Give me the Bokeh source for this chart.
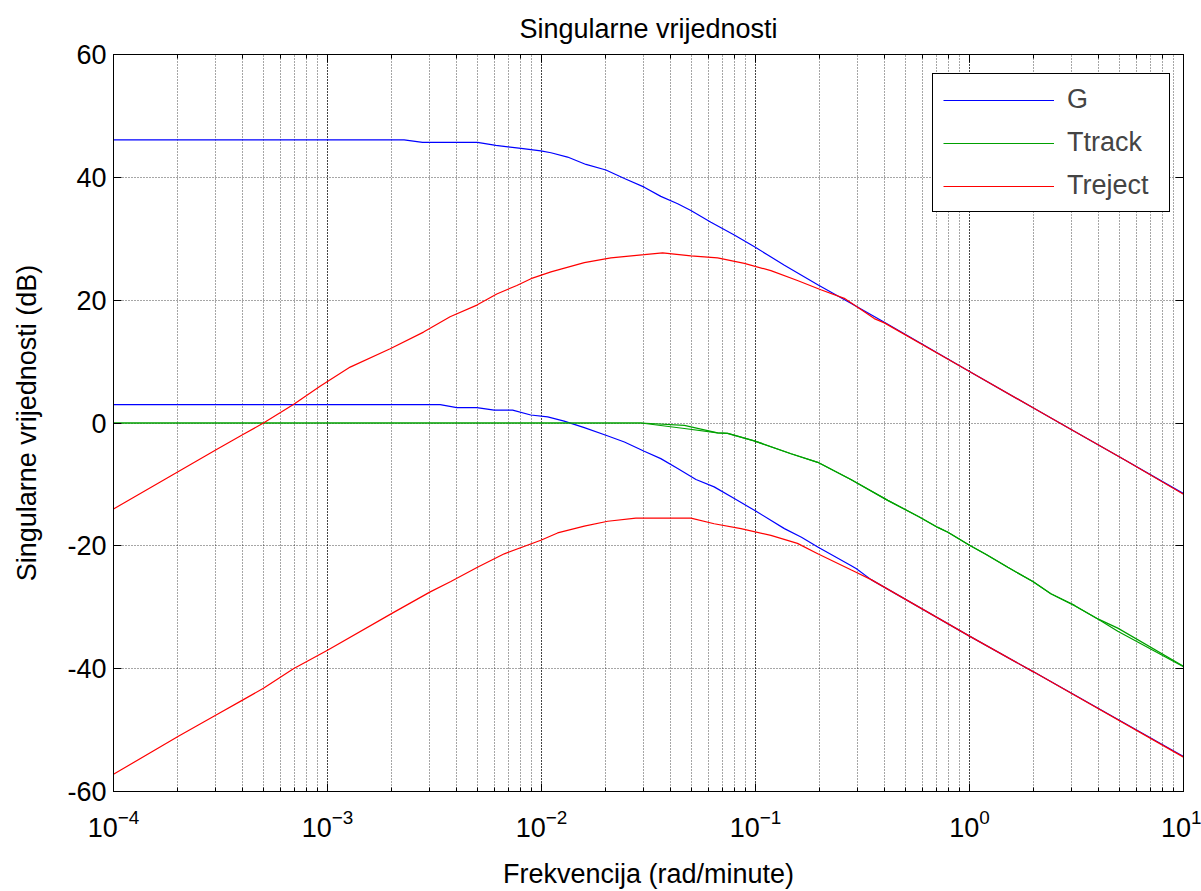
from bokeh.plotting import figure
from bokeh.models import LinearAxis, LogAxis, FixedTicker, LogTicker, Legend, LegendItem
from bokeh.embed import file_html
from bokeh.resources import INLINE

FONT = "Liberation Sans"

# ---- data ----
g1_f = [1e-4, 2.28e-3, 2.78e-3, 5.02e-3, 6.12e-3, 8.02e-3, 9.93e-3, 1.107e-2, 1.324e-2,
        1.614e-2, 2.0e-2, 2.44e-2, 3.02e-2, 3.61e-2, 4.33e-2, 4.99e-2, 6.19e-2, 7.96e-2,
        9.98e-2, 0.1365, 0.1954, 0.279, 0.4, 1.0, 2.01, 2.93, 5.3, 10.0]
g1_db = [46.1, 46.1, 45.7, 45.7, 45.2, 44.7, 44.3, 44.0, 43.3,
         42.1, 41.2, 39.8, 38.4, 36.9, 35.7, 34.6, 32.7, 30.6,
         28.6, 25.7, 22.5, 19.5, 16.4, 8.4, 2.35, -0.9, -6.0, -11.5]

g2_f = [1e-4, 3.36e-3, 4.02e-3, 4.99e-3, 6.01e-3, 7.33e-3, 8.91e-3, 1.069e-2, 1.276e-2,
        1.585e-2, 2.0e-2, 2.44e-2, 3.02e-2, 3.61e-2, 4.33e-2, 5.27e-2, 6.41e-2, 7.96e-2,
        9.98e-2, 0.1365, 0.164, 0.1954, 0.279, 0.295, 0.347, 1.0, 2.01, 10.0]
g2_db = [3.0, 3.0, 2.5, 2.5, 2.1, 2.1, 1.3, 1.0, 0.3,
         -0.75, -2.0, -3.1, -4.6, -5.8, -7.4, -9.2, -10.4, -12.3,
         -14.3, -17.2, -18.6, -20.2, -23.2, -23.7, -25.5, -34.7, -40.6, -54.3]

t1_f = [1e-4, 2.92e-2, 4.65e-2, 6.65e-2, 7.41e-2, 9.86e-2, 0.1466, 0.1954, 0.279, 0.415,
        0.583, 0.711, 0.793, 1.0, 1.197, 1.51, 1.977, 2.40, 3.09, 3.98, 4.93, 10.0]
t1_db = [0.0, 0.0, -0.4, -1.6, -1.7, -2.9, -5.0, -6.4, -9.2, -12.6,
         -15.3, -17.0, -17.8, -19.9, -21.4, -23.5, -25.8, -27.8, -29.7, -31.9, -33.4, -39.6]

t2_f = [1e-4, 2.92e-2, 4.65e-2, 6.65e-2, 7.41e-2, 9.86e-2, 0.1466, 0.1954, 0.279, 0.415,
        0.583, 0.711, 0.793, 1.0, 1.197, 1.51, 1.977, 2.40, 3.09, 3.98, 4.93, 10.0]
t2_db = [0.0, 0.0, -0.9, -1.6, -1.7, -2.9, -5.0, -6.4, -9.2, -12.6,
         -15.3, -17.0, -17.8, -19.9, -21.4, -23.5, -25.8, -27.8, -29.7, -31.9, -33.9, -39.7]

r1_f = [1e-4, 3.03e-4, 3.97e-4, 5.02e-4, 6.93e-4, 9.23e-4, 1.276e-3, 1.963e-3, 2.81e-3,
        3.74e-3, 4.99e-3, 6.18e-3, 7.67e-3, 8.93e-3, 1.107e-2, 1.585e-2, 2.11e-2, 3.02e-2,
        3.68e-2, 4.99e-2, 6.65e-2, 8.87e-2, 0.118, 0.157, 0.202, 0.26, 0.359, 0.4,
        1.0, 2.01, 2.93, 5.3, 10.0]
r1_db = [-14.0, -4.3, -2.0, 0.0, 3.0, 6.0, 9.1, 12.1, 14.8,
         17.3, 19.2, 21.0, 22.4, 23.5, 24.6, 26.1, 26.9, 27.4,
         27.7, 27.2, 26.9, 26.0, 24.8, 23.2, 21.7, 20.3, 17.0, 16.3,
         8.4, 2.35, -0.9, -6.0, -11.6]

r2_f = [1e-4, 2.01e-4, 3.03e-4, 3.97e-4, 5.02e-4, 6.93e-4, 1e-3, 2.0e-3, 3.02e-3, 3.77e-3,
        5.02e-3, 6.7e-3, 9.93e-3, 1.189e-2, 1.585e-2, 2.04e-2, 2.76e-2, 4.99e-2, 6.41e-2,
        8.55e-2, 0.118, 0.157, 0.1954, 0.279, 0.295, 0.347, 1.0, 2.01, 10.0]
r2_db = [-57.2, -51.0, -47.5, -45.2, -43.2, -40.0, -37.0, -31.0, -27.5, -25.8,
         -23.5, -21.3, -19.1, -17.9, -16.8, -16.0, -15.5, -15.5, -16.4,
         -17.2, -18.3, -19.6, -21.3, -23.9, -24.3, -25.5, -34.7, -40.6, -54.4]

y_ticks = [-60, -40, -20, 0, 20, 40, 60]
y_tick_labels = ["-60", "-40", "-20", "0", "20", "40", "60"]
legend_labels = ["G", "Ttrack", "Treject"]
colors = ["#0000ff", "#00a000", "#ff0000"]
LW = 1.2

p = figure(width=1201, height=891, x_axis_type="log", x_range=(1e-4, 10), y_range=(-60, 60),
           output_backend="svg", toolbar_location=None,
           min_border_left=113, min_border_right=18, min_border_top=54, min_border_bottom=100,
           background_fill_color="white", border_fill_color="white")

p.outline_line_color = "black"
p.outline_line_width = 1

r_g1 = p.line(g1_f, g1_db, line_color=colors[0], line_width=LW)
r_g2 = p.line(g2_f, g2_db, line_color=colors[0], line_width=LW)
r_t1 = p.line(t1_f, t1_db, line_color=colors[1], line_width=LW)
r_t2 = p.line(t2_f, t2_db, line_color=colors[1], line_width=LW)
r_r1 = p.line(r1_f, r1_db, line_color=colors[2], line_width=LW)
r_r2 = p.line(r2_f, r2_db, line_color=colors[2], line_width=LW)

# grids
for g in (p.xgrid[0], p.ygrid[0]):
    g.grid_line_color = "black"
    g.grid_line_alpha = 0.7
    g.grid_line_dash = "1 2"
p.xgrid[0].minor_grid_line_color = "black"
p.xgrid[0].minor_grid_line_alpha = 0.7
p.xgrid[0].minor_grid_line_dash = "1 2"

p.yaxis[0].ticker = FixedTicker(ticks=y_ticks, minor_ticks=[])
p.yaxis[0].major_label_overrides = {t: s for t, s in zip(y_ticks, y_tick_labels)}

def style_axis(ax, labels=True):
    ax.axis_line_color = "black"
    ax.major_tick_line_color = "black"
    ax.minor_tick_line_color = "black"
    ax.major_tick_in = 8
    ax.major_tick_out = 0
    ax.minor_tick_in = 4
    ax.minor_tick_out = 0
    ax.major_label_text_font = FONT
    if labels:
        ax.major_label_text_font_size = "27px"
        ax.major_label_text_color = "black"
    else:
        ax.major_label_text_font_size = "1px"
        ax.major_label_text_alpha = 0.0
    ax.axis_label_text_font = FONT
    ax.axis_label_text_font_size = "27px"
    ax.axis_label_text_font_style = "normal"
    ax.axis_label_text_color = "black"

style_axis(p.xaxis[0])
style_axis(p.yaxis[0])
p.yaxis[0].minor_tick_line_color = None
p.xaxis[0].axis_label = "Frekvencija (rad/minute)"
p.yaxis[0].axis_label = "Singularne vrijednosti (dB)"
p.xaxis[0].major_label_standoff = 17
p.xaxis[0].axis_label_standoff = 19
p.yaxis[0].major_label_standoff = 7
p.yaxis[0].axis_label_standoff = 22

ax_r = LinearAxis(ticker=FixedTicker(ticks=y_ticks, minor_ticks=[]))
style_axis(ax_r, labels=False)
ax_r.minor_tick_line_color = None
ax_r.major_label_standoff = 0
p.add_layout(ax_r, "right")

ax_t = LogAxis(ticker=LogTicker())
style_axis(ax_t, labels=False)
ax_t.major_label_standoff = 0
p.add_layout(ax_t, "above")

p.title.text = "Singularne vrijednosti"
p.title.align = "center"
p.title.text_font = FONT
p.title.text_font_size = "27px"
p.title.text_font_style = "normal"
p.title.text_color = "black"
p.title.standoff = 22

legend = Legend(items=[LegendItem(label=legend_labels[0], renderers=[r_g1]),
                       LegendItem(label=legend_labels[1], renderers=[r_t1]),
                       LegendItem(label=legend_labels[2], renderers=[r_r1])],
                location=(819, 579), margin=0, padding=10, spacing=12,
                glyph_width=111, glyph_height=30, label_standoff=13,
                label_width=92, label_height=30,
                label_text_font=FONT, label_text_font_size="27px",
                border_line_color="black", border_line_width=1, border_line_alpha=1.0,
                background_fill_color="white", background_fill_alpha=1.0)
p.add_layout(legend)

open("out.html", "w").write(file_html(p, INLINE))
